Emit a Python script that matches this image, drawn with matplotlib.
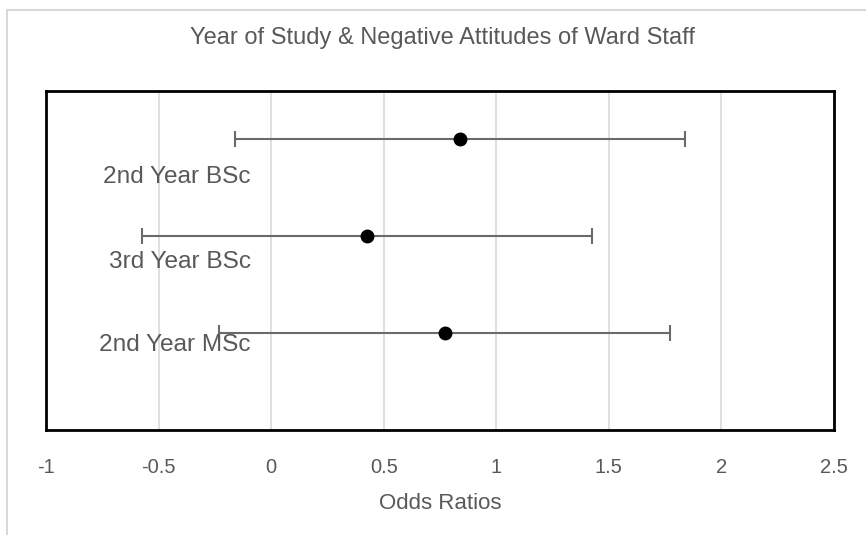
import matplotlib
matplotlib.use('Agg')
import matplotlib.pyplot as plt
from matplotlib.patches import Rectangle

# Dane: iloraz szans i przedział (±)
groups = ["2nd Year BSc", "3rd Year BSc", "2nd Year MSc"]
odds = [0.84, 0.425, 0.77]
err = [1.0, 1.0, 1.0]
ypos = [3, 2, 1]

xticks = [-1, -0.5, 0, 0.5, 1, 1.5, 2, 2.5]
xtick_labels = ["-1", "-0.5", "0", "0.5", "1", "1.5", "2", "2.5"]

txt_color = '#595959'
plt.rcParams['font.family'] = ['Liberation Sans', 'DejaVu Sans']

fig = plt.figure(figsize=(8.66, 5.35), dpi=100)
W, H = 866, 535

# ramka obszaru wykresu (Excel), ucięta z prawej i z dołu
fig.patches.append(Rectangle((6.5 / W, -0.1), 1.2, 1 - 9.5 / H + 0.1,
                             transform=fig.transFigure, fill=False,
                             edgecolor='#d9d9d9', lw=1.5))

ax = fig.add_axes([46 / W, 1 - 430 / H, (834 - 46) / W, (430 - 91) / H])
ax.set_xlim(-1, 2.5)
ax.set_ylim(0, 3.5)

ax.errorbar(odds, ypos, xerr=err, fmt='o', color='black', markersize=9,
            ecolor='#6a6a6a', elinewidth=1.5, capsize=6, capthick=1.5, zorder=3)

# etykiety grup (po lewej, pod punktami)
label_dy = [-0.39, -0.27, -0.12]
for name, y, dy in zip(groups, ypos, label_dy):
    ax.text(-0.09, y + dy, name, ha='right', va='center', fontsize=17.6, color=txt_color)

ax.set_xticks(xticks)
ax.set_xticklabels(xtick_labels)
ax.set_yticks([])
ax.grid(axis='x', color='#d9d9d9', lw=1.2)
ax.set_axisbelow(True)
ax.tick_params(axis='x', length=0, pad=20, labelsize=14.5, labelcolor=txt_color)
for s in ax.spines.values():
    s.set_color('black')
    s.set_linewidth(2)

ax.set_xlabel("Odds Ratios", fontsize=16, color=txt_color, labelpad=12)
fig.text(443 / W, 1 - 38 / H, "Year of Study & Negative Attitudes of Ward Staff",
         ha='center', va='center', fontsize=17, color=txt_color)

fig.savefig('out.png', dpi=100)
